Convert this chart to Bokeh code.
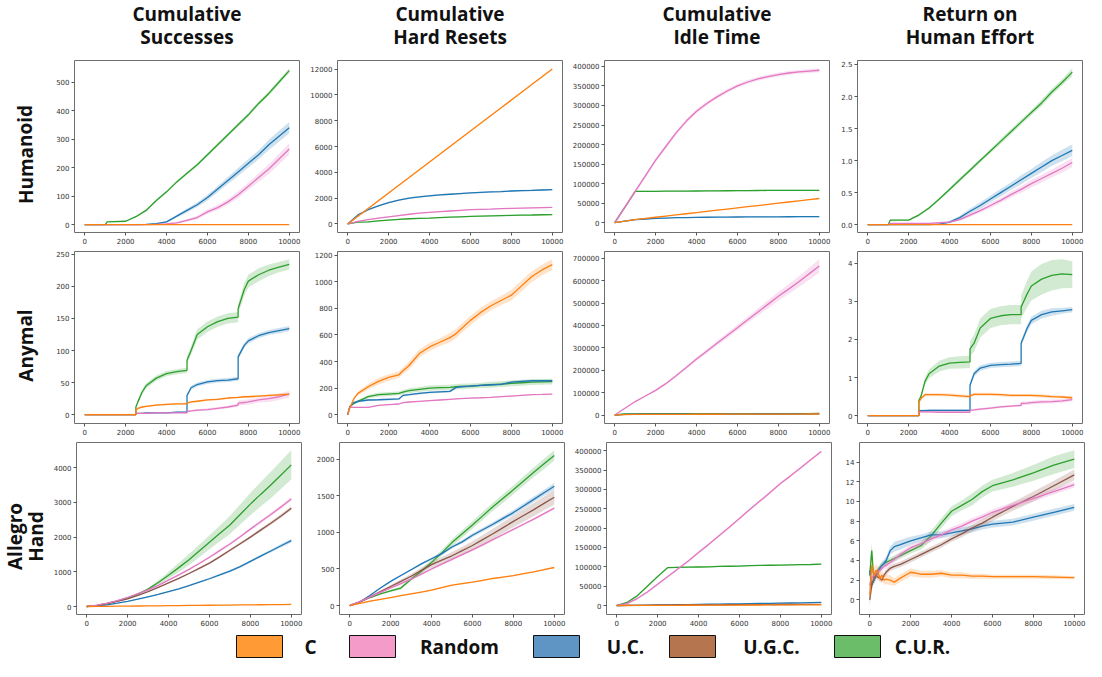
from bokeh.plotting import figure
from bokeh.layouts import row, column
from bokeh.models import Range1d, FixedTicker, PrintfTickFormatter
from bokeh.embed import file_html
from bokeh.resources import INLINE
from bokeh.core.properties import value

# ---------------- data ----------------
METHODS = ["C", "Random", "U.C.", "U.G.C.", "C.U.R."]
LINE_COLORS = ["#ff7f0e", "#e377c2", "#1f77b4", "#8c564b", "#2ca02c"]
SWATCH_COLORS = ["#ff9a35", "#f59bc9", "#5f95c4", "#b5764f", "#6cbd6a"]
COL_TITLES = [["Cumulative", "Successes"], ["Cumulative", "Hard Resets"],
              ["Cumulative", "Idle Time"], ["Return on", "Human Effort"]]
ROW_TITLES = [["Humanoid"], ["Anymal"], ["Allegro", "Hand"]]

X_TICKS = [0, 2000, 4000, 6000, 8000, 10000]
G = [0, 500, 1000, 1500, 2000, 2500, 3000, 3500, 4000, 4500, 5000, 5500, 6000,
     6500, 7000, 7500, 8000, 8500, 9000, 9500, 10000]

# Humanoid - cumulative successes / return on human effort
HX = [0, 1000, 1100, 2000, 2500, 3000, 3500, 4000, 4500, 5000, 5500, 6000, 6500,
      7000, 7500, 8000, 8500, 9000, 9500, 10000]
H_SU_C = [0] * 20
H_SU_RND = [0, 0, 0, 0, 0, 0, 1, 3, 6, 15, 25, 45, 60, 80, 105, 135, 165, 195, 230, 265]
H_SU_RND_SD = [0, 0, 0, 0, 0, 0, 1, 2, 3, 5, 6, 8, 9, 10, 12, 13, 15, 17, 18, 20]
H_SU_UC = [0, 0, 0, 0, 0, 1, 4, 10, 30, 50, 70, 95, 125, 155, 185, 215, 245, 280, 310, 340]
H_SU_UC_SD = [0, 0, 0, 0, 0, 1, 2, 3, 5, 7, 8, 10, 11, 12, 14, 15, 16, 18, 19, 20]
H_SU_CUR = [0, 0, 10, 12, 28, 50, 85, 115, 150, 180, 210, 245, 280, 315, 350, 385, 425, 460, 500, 540]
H_SU_CUR_SD = [0, 0, 1, 2, 3, 4, 4, 5, 5, 5, 5, 6, 6, 6, 7, 7, 7, 8, 8, 8]
H_SU_YT = [0, 100, 200, 300, 400, 500]

H_RO_C = [0] * 20
H_RO_RND = [0, 0, 0.02, 0.02, 0.02, 0.02, 0.03, 0.04, 0.08, 0.15, 0.22, 0.30, 0.38,
            0.47, 0.55, 0.64, 0.72, 0.80, 0.88, 0.97]
H_RO_RND_SD = [0, 0, 0, 0, 0, 0, 0.01, 0.01, 0.02, 0.03, 0.03, 0.04, 0.04, 0.05,
               0.05, 0.06, 0.06, 0.06, 0.07, 0.07]
H_RO_UC = [0, 0, 0, 0, 0, 0, 0.01, 0.04, 0.11, 0.21, 0.30, 0.40, 0.50, 0.60, 0.70,
           0.80, 0.90, 1.00, 1.08, 1.16]
H_RO_UC_SD = [0, 0, 0, 0, 0, 0, 0.01, 0.02, 0.03, 0.04, 0.05, 0.05, 0.06, 0.06,
              0.07, 0.07, 0.08, 0.08, 0.09, 0.09]
H_RO_CUR = [0, 0, 0.07, 0.07, 0.15, 0.26, 0.40, 0.55, 0.70, 0.85, 1.00, 1.15, 1.30,
            1.45, 1.60, 1.75, 1.90, 2.07, 2.22, 2.38]
H_RO_CUR_SD = [0, 0, 0.01, 0.01, 0.02, 0.02, 0.02, 0.03, 0.03, 0.03, 0.03, 0.03,
               0.04, 0.04, 0.04, 0.04, 0.05, 0.05, 0.05, 0.06]
H_RO_YT = [0, 0.5, 1.0, 1.5, 2.0, 2.5]

# Humanoid - hard resets (x = G)
H_HR_C = [0, 600, 1200, 1800, 2400, 3000, 3600, 4200, 4800, 5400, 6000, 6600, 7200,
          7800, 8400, 9000, 9600, 10200, 10800, 11400, 12000]
H_HR_RND = [0, 200, 330, 450, 550, 650, 750, 830, 900, 950, 1000, 1050, 1100, 1130,
            1150, 1180, 1200, 1220, 1240, 1260, 1280]
H_HR_UC = [0, 700, 1100, 1400, 1650, 1850, 2000, 2100, 2180, 2250, 2300, 2350, 2400,
           2440, 2480, 2510, 2550, 2580, 2600, 2630, 2650]
H_HR_CUR = [0, 140, 150, 230, 300, 350, 400, 430, 450, 490, 520, 550, 580, 600, 620,
            640, 660, 680, 690, 710, 720]
H_HR_YT = [0, 2000, 4000, 6000, 8000, 10000, 12000]

# Humanoid - idle time (x = G)
H_ID_C = [0, 4000, 8000, 11000, 14000, 17000, 20000, 23000, 26000, 29000, 32000, 35000,
          38000, 41000, 44000, 47000, 50000, 53000, 56000, 59000, 62000]
H_ID_RND = [0, 40000, 80000, 120000, 160000, 195000, 230000, 260000, 285000, 305000,
            322000, 337000, 350000, 360000, 368000, 374000, 379000, 383000, 386000,
            388000, 390000]
H_ID_UC = [0, 4000, 8000, 9500, 11000, 12000, 12800, 13300, 13700, 14000, 14300, 14500,
           14700, 14900, 15000, 15100, 15200, 15300, 15400, 15500, 15500]
H_ID_CUR = [0, 40000, 80000, 80200, 80400, 80600, 80800, 81000, 81200, 81400, 81600,
            81800, 82000, 82200, 82400, 82600, 82700, 82800, 82900, 83000, 83000]
ID_YT = [0, 50000, 100000, 150000, 200000, 250000, 300000, 350000, 400000]

# Anymal - successes / return on human effort
AX = [0, 2500, 2500, 2600, 2800, 3000, 3500, 4000, 4500, 5000, 5000, 5200, 5500, 6000,
      6500, 7000, 7500, 7500, 7800, 8000, 8500, 9000, 9500, 10000]
A_SU_C = [0, 0, 7, 10, 12, 13, 15, 16, 17, 17, 18, 20, 21, 23, 24, 26, 27, 27, 28, 28,
          29, 30, 31, 32]
A_SU_RND = [0, 0, 2, 2, 2, 2, 3, 3, 3, 3, 5, 6, 7, 8, 10, 12, 15, 18, 19, 20, 23, 25, 28, 32]
A_SU_RND_SD = [0, 0, 1, 1, 1, 1, 1, 1, 1, 1, 1, 1, 2, 2, 2, 2, 3, 4, 4, 4, 4, 5, 5, 5]
A_SU_UC = [0, 0, 2, 2, 2, 3, 3, 3, 4, 4, 30, 42, 47, 51, 53, 54, 56, 90, 108, 115, 123,
           128, 131, 134]
A_SU_UC_SD = [0, 0, 0, 0, 0, 0, 0, 0, 1, 1, 3, 3, 3, 3, 3, 3, 3, 4, 4, 4, 4, 4, 4, 4]
A_SU_CUR = [0, 0, 12, 20, 35, 45, 57, 64, 67, 69, 85, 100, 125, 137, 145, 150, 152, 165,
            195, 208, 218, 225, 230, 234]
A_SU_CUR_SD = [0, 0, 3, 3, 4, 4, 4, 4, 4, 4, 6, 7, 8, 8, 8, 8, 8, 8, 10, 10, 10, 9, 8, 8]
A_SU_YT = [0, 50, 100, 150, 200, 250]

A_RO_C = [0, 0, 0.35, 0.45, 0.55, 0.55, 0.55, 0.54, 0.52, 0.50, 0.52, 0.56, 0.56, 0.56,
          0.55, 0.53, 0.53, 0.53, 0.53, 0.53, 0.52, 0.50, 0.49, 0.47]
A_RO_C_SD = [0, 0, 0.04, 0.04, 0.04, 0.04, 0.04, 0.04, 0.04, 0.04, 0.04, 0.04, 0.04,
             0.04, 0.04, 0.04, 0.04, 0.04, 0.04, 0.04, 0.04, 0.04, 0.03, 0.03]
A_RO_RND = [0, 0, 0.10, 0.10, 0.10, 0.10, 0.09, 0.09, 0.09, 0.09, 0.14, 0.15, 0.17, 0.20,
            0.23, 0.25, 0.27, 0.32, 0.33, 0.34, 0.36, 0.37, 0.39, 0.42]
A_RO_RND_SD = [0, 0, 0.02, 0.02, 0.02, 0.02, 0.02, 0.02, 0.02, 0.02, 0.03, 0.03, 0.03,
               0.03, 0.03, 0.03, 0.03, 0.05, 0.05, 0.05, 0.05, 0.05, 0.05, 0.05]
A_RO_UC = [0, 0, 0.12, 0.13, 0.13, 0.14, 0.14, 0.14, 0.14, 0.14, 0.80, 1.10, 1.25, 1.32,
           1.34, 1.35, 1.37, 1.90, 2.30, 2.50, 2.65, 2.72, 2.75, 2.78]
A_RO_UC_SD = [0, 0, 0.02, 0.03, 0.03, 0.03, 0.03, 0.03, 0.03, 0.03, 0.06, 0.07, 0.07,
              0.07, 0.07, 0.07, 0.07, 0.08, 0.09, 0.10, 0.10, 0.10, 0.08, 0.07]
A_RO_CUR = [0, 0, 0.40, 0.50, 0.90, 1.10, 1.30, 1.38, 1.40, 1.41, 1.75, 1.90, 2.30, 2.55,
            2.62, 2.65, 2.65, 2.85, 3.20, 3.40, 3.58, 3.68, 3.72, 3.70]
A_RO_CUR_SD = [0, 0, 0.05, 0.06, 0.10, 0.12, 0.14, 0.15, 0.16, 0.16, 0.20, 0.22, 0.25,
               0.25, 0.25, 0.25, 0.25, 0.30, 0.35, 0.38, 0.40, 0.40, 0.38, 0.35]
A_RO_YT = [0, 1, 2, 3, 4]

# Anymal - hard resets
AHX = [0, 100, 300, 500, 1000, 1500, 2000, 2500, 2700, 3000, 3500, 4000, 4500, 5000,
       5300, 5500, 6000, 6500, 7000, 7500, 8000, 8500, 9000, 9500, 10000]
A_HR_C = [0, 50, 120, 160, 210, 250, 280, 300, 330, 370, 460, 510, 545, 580, 610, 640,
          710, 770, 820, 860, 900, 970, 1040, 1090, 1130]
A_HR_C_SD = [0, 5, 10, 15, 20, 25, 25, 25, 25, 30, 30, 30, 30, 35, 35, 35, 35, 35, 35,
             35, 40, 40, 40, 40, 40]
A_HR_RND = [0, 55, 55, 55, 55, 70, 75, 80, 90, 95, 100, 105, 110, 115, 118, 120, 125,
            127, 130, 135, 140, 145, 150, 152, 155]
A_HR_UC = [0, 60, 90, 100, 110, 112, 115, 118, 145, 150, 160, 167, 171, 175, 205, 210,
           215, 220, 225, 228, 245, 250, 255, 255, 255]
A_HR_CUR = [0, 60, 85, 100, 135, 150, 155, 160, 170, 180, 190, 200, 203, 205, 210, 212,
            215, 220, 225, 230, 235, 240, 245, 247, 248]
A_HR_CUR_SD = [0, 5, 8, 10, 12, 15, 15, 15, 15, 18, 18, 20, 20, 20, 20, 20, 20, 20, 22,
               22, 22, 22, 22, 22, 22]
A_HR_YT = [0, 200, 400, 600, 800, 1000, 1200]

# Anymal - idle time (x = G)
A_ID_C = [0, 2000, 2500, 2700, 2900, 3000, 3100, 3200, 3300, 3400, 3500, 3600, 3700,
          3800, 3900, 4000, 4100, 4200, 4300, 4400, 4500]
A_ID_RND = [0, 30000, 60000, 85000, 110000, 140000, 175000, 212000, 250000, 285000,
            320000, 355000, 390000, 425000, 460000, 495000, 530000, 562000, 595000,
            630000, 665000]
A_ID_RND_SD = [0, 1000, 2000, 3000, 4000, 5000, 6000, 7000, 8000, 9000, 10000, 11000,
               13000, 14000, 16000, 18000, 20000, 22000, 24000, 27000, 30000]
A_ID_UC = [0, 3000, 3500, 3700, 3800, 3900, 4000, 4000, 4100, 4100, 4200, 4200, 4300,
           4300, 4400, 4400, 4500, 4500, 4600, 4600, 4700]
A_ID_CUR = [0, 5000, 5500, 5700, 5800, 5900, 6000, 6000, 6100, 6100, 6200, 6200, 6300,
            6300, 6400, 6400, 6500, 6500, 6600, 6600, 6700]
A_ID_YT = [0, 100000, 200000, 300000, 400000, 500000, 600000, 700000]

# Allegro Hand - successes (x = G)
L_SU_C = [0, 3, 6, 9, 12, 15, 18, 21, 24, 27, 30, 33, 36, 39, 42, 45, 48, 51, 54, 57, 60]
L_SU_RND = [0, 40, 100, 170, 260, 370, 480, 610, 760, 910, 1070, 1240, 1420, 1610, 1800,
            2010, 2230, 2440, 2650, 2870, 3100]
L_SU_UC = [0, 20, 50, 95, 150, 210, 280, 350, 430, 510, 600, 700, 800, 910, 1020, 1150,
           1300, 1450, 1600, 1750, 1900]
L_SU_UC_SD = [0, 2, 4, 6, 8, 10, 12, 14, 16, 18, 20, 22, 25, 28, 30, 33, 36, 40, 45, 50, 55]
L_SU_UGC = [0, 30, 80, 145, 220, 320, 430, 550, 680, 810, 950, 1100, 1250, 1430, 1620,
            1810, 2000, 2200, 2400, 2610, 2830]
L_SU_UGC_SD = [0, 3, 5, 8, 10, 12, 14, 16, 18, 20, 22, 25, 28, 30, 33, 36, 40, 45, 50, 55, 60]
L_SU_CUR = [0, 35, 90, 160, 250, 360, 500, 690, 900, 1120, 1350, 1600, 1850, 2100, 2350,
            2650, 2950, 3230, 3500, 3790, 4080]
L_SU_CUR_SD = [0, 3, 6, 10, 15, 20, 30, 60, 100, 130, 160, 180, 200, 230, 260, 290, 320,
               350, 380, 400, 420]
L_SU_YT = [0, 1000, 2000, 3000, 4000]

# Allegro Hand - hard resets (x = G)
L_HR_C = [0, 30, 60, 85, 110, 135, 160, 185, 210, 245, 280, 300, 320, 345, 370, 390, 410,
          435, 460, 490, 520]
L_HR_RND = [0, 55, 120, 180, 240, 300, 360, 430, 500, 565, 630, 695, 760, 830, 900, 970,
            1040, 1110, 1180, 1255, 1330]
L_HR_UC = [0, 50, 140, 240, 330, 410, 490, 570, 640, 710, 800, 870, 960, 1035, 1110,
           1190, 1270, 1360, 1450, 1540, 1630]
L_HR_UC_SD = [0, 3, 5, 8, 10, 12, 14, 16, 18, 20, 22, 24, 26, 28, 30, 32, 35, 38, 40, 42, 45]
L_HR_UGC = [0, 50, 120, 190, 260, 330, 400, 480, 560, 620, 680, 750, 820, 900, 980, 1065,
            1150, 1230, 1310, 1395, 1480]
L_HR_UGC_SD = [0, 5, 10, 15, 20, 25, 30, 35, 40, 45, 50, 55, 60, 65, 70, 75, 80, 85, 90,
               95, 100]
L_HR_CUR = [0, 50, 110, 160, 200, 240, 360, 470, 590, 720, 860, 980, 1100, 1225, 1350,
            1465, 1580, 1700, 1820, 1935, 2050]
L_HR_CUR_SD = [0, 5, 8, 10, 15, 20, 25, 30, 35, 40, 45, 50, 50, 55, 55, 60, 60, 65, 65,
               70, 70]
L_HR_YT = [0, 500, 1000, 1500, 2000]

# Allegro Hand - idle time (x = G)
L_ID_C = [0, 100, 200, 300, 400, 500, 600, 700, 800, 900, 1000, 1100, 1200, 1300, 1400,
          1500, 1600, 1700, 1800, 1900, 2000]
L_ID_RND = [0, 5000, 18000, 35000, 55000, 75000, 95000, 115000, 137000, 158000, 180000,
            202000, 225000, 248000, 270000, 292000, 315000, 335000, 356000, 377000, 398000]
L_ID_UC = [0, 300, 600, 900, 1300, 1700, 2100, 2500, 2900, 3300, 3700, 4100, 4500, 4900,
           5300, 5700, 6100, 6500, 7000, 7500, 8000]
L_ID_UGC = [0, 200, 400, 600, 800, 1000, 1200, 1400, 1500, 1700, 1800, 2000, 2100, 2300,
            2400, 2500, 2600, 2700, 2800, 2900, 3000]
L_ID_CUR = [0, 8000, 25000, 50000, 75000, 98000, 98500, 99000, 99500, 100000, 101000,
            101500, 102000, 103000, 103500, 104000, 104500, 105000, 105500, 106000, 107000]

# Allegro Hand - return on human effort
LX = [0, 100, 200, 300, 400, 500, 600, 700, 800, 1000, 1200, 1500, 2000, 2500, 3000,
      3500, 4000, 4500, 5000, 5500, 6000, 7000, 8000, 9000, 10000]
L_RO_C = [0.5, 3.5, 2.5, 3.0, 2.8, 2.2, 2.5, 2.0, 2.1, 2.0, 1.8, 2.2, 2.8, 2.6, 2.6, 2.7,
          2.5, 2.5, 2.4, 2.4, 2.35, 2.35, 2.35, 2.3, 2.25]
L_RO_C_SD = [1.2, 0.8, 0.7, 0.6, 0.6, 0.5, 0.5, 0.5, 0.5, 0.5, 0.4, 0.4, 0.4, 0.35, 0.35,
             0.3, 0.3, 0.3, 0.25, 0.25, 0.2, 0.2, 0.2, 0.2, 0.15]
L_RO_RND = [1.5, 2.2, 2.5, 2.7, 2.9, 3.0, 3.2, 3.4, 3.5, 3.8, 4.1, 4.6, 5.3, 5.7, 6.2, 6.6,
            7.1, 7.5, 8.0, 8.4, 8.9, 9.6, 10.3, 11.0, 11.7]
L_RO_RND_SD = [0.5, 0.4, 0.3, 0.3, 0.3, 0.3, 0.3, 0.3, 0.3, 0.3, 0.3, 0.3, 0.3, 0.3, 0.3,
               0.3, 0.3, 0.3, 0.3, 0.3, 0.3, 0.3, 0.3, 0.3, 0.3]
L_RO_UC = [3.0, 1.5, 2.0, 2.4, 2.8, 3.2, 3.5, 3.7, 4.0, 5.0, 5.4, 5.6, 6.0, 6.3, 6.6, 6.6,
           6.8, 7.0, 7.2, 7.5, 7.7, 7.9, 8.4, 8.9, 9.4]
L_RO_UC_SD = [0.4, 0.4, 0.4, 0.4, 0.4, 0.4, 0.4, 0.4, 0.4, 0.4, 0.5, 0.5, 0.4, 0.35, 0.35,
              0.35, 0.35, 0.35, 0.35, 0.35, 0.35, 0.35, 0.35, 0.35, 0.35]
L_RO_UGC = [0.0, 1.5, 2.2, 2.5, 2.3, 2.2, 2.0, 2.5, 2.8, 3.2, 3.4, 3.6, 4.1, 4.6, 5.1, 5.6,
            6.2, 6.7, 7.3, 7.8, 8.4, 9.5, 10.5, 11.6, 12.7]
L_RO_UGC_SD = [0.6, 0.5, 0.4, 0.3, 0.3, 0.3, 0.3, 0.3, 0.3, 0.3, 0.3, 0.3, 0.3, 0.3, 0.3,
               0.3, 0.3, 0.35, 0.35, 0.4, 0.4, 0.45, 0.5, 0.5, 0.55]
L_RO_CUR = [2.5, 5.0, 2.0, 2.5, 3.0, 3.3, 3.5, 3.7, 3.8, 4.0, 4.2, 4.5, 5.0, 5.5, 6.5, 7.8,
            9.0, 9.6, 10.2, 11.0, 11.6, 12.2, 12.9, 13.7, 14.3]
L_RO_CUR_SD = [1.5, 0.8, 0.5, 0.4, 0.3, 0.3, 0.3, 0.3, 0.3, 0.3, 0.3, 0.3, 0.3, 0.4, 0.5,
               0.5, 0.5, 0.5, 0.6, 0.6, 0.6, 0.7, 0.8, 0.9, 0.9]
L_RO_YT = [0, 2, 4, 6, 8, 10, 12, 14, 16]

# ---------------- panel specs (built from the lists above) ----------------
PANELS = [
    [  # Humanoid
        (HX, {"C": (H_SU_C, 0), "Random": (H_SU_RND, H_SU_RND_SD), "U.C.": (H_SU_UC, H_SU_UC_SD),
              "C.U.R.": (H_SU_CUR, H_SU_CUR_SD)}, H_SU_YT, "%d"),
        (G, {"C": (H_HR_C, 60), "Random": (H_HR_RND, 40), "U.C.": (H_HR_UC, 60),
             "C.U.R.": (H_HR_CUR, 40)}, H_HR_YT, "%d"),
        (G, {"C": (H_ID_C, 1000), "Random": (H_ID_RND, 5000), "U.C.": (H_ID_UC, 1500),
             "C.U.R.": (H_ID_CUR, 1500)}, ID_YT, "%d"),
        (HX, {"C": (H_RO_C, 0), "Random": (H_RO_RND, H_RO_RND_SD), "U.C.": (H_RO_UC, H_RO_UC_SD),
              "C.U.R.": (H_RO_CUR, H_RO_CUR_SD)}, H_RO_YT, "%.1f"),
    ],
    [  # Anymal
        (AX, {"C": (A_SU_C, 1.5), "Random": (A_SU_RND, A_SU_RND_SD), "U.C.": (A_SU_UC, A_SU_UC_SD),
              "C.U.R.": (A_SU_CUR, A_SU_CUR_SD)}, A_SU_YT, "%d"),
        (AHX, {"C": (A_HR_C, A_HR_C_SD), "Random": (A_HR_RND, 4), "U.C.": (A_HR_UC, 8),
               "C.U.R.": (A_HR_CUR, A_HR_CUR_SD)}, A_HR_YT, "%d"),
        (G, {"C": (A_ID_C, 1500), "Random": (A_ID_RND, A_ID_RND_SD), "U.C.": (A_ID_UC, 1500),
             "C.U.R.": (A_ID_CUR, 3000)}, A_ID_YT, "%d"),
        (AX, {"C": (A_RO_C, A_RO_C_SD), "Random": (A_RO_RND, A_RO_RND_SD),
              "U.C.": (A_RO_UC, A_RO_UC_SD), "C.U.R.": (A_RO_CUR, A_RO_CUR_SD)}, A_RO_YT, "%d"),
    ],
    [  # Allegro Hand
        (G, {"C": (L_SU_C, 5), "Random": (L_SU_RND, L_SU_UGC_SD), "U.C.": (L_SU_UC, L_SU_UC_SD),
             "U.G.C.": (L_SU_UGC, L_SU_UGC_SD), "C.U.R.": (L_SU_CUR, L_SU_CUR_SD)}, L_SU_YT, "%d"),
        (G, {"C": (L_HR_C, 8), "Random": (L_HR_RND, 15), "U.C.": (L_HR_UC, L_HR_UC_SD),
             "U.G.C.": (L_HR_UGC, L_HR_UGC_SD), "C.U.R.": (L_HR_CUR, L_HR_CUR_SD)}, L_HR_YT, "%d"),
        (G, {"C": (L_ID_C, 300), "Random": (L_ID_RND, 3000), "U.C.": (L_ID_UC, 800),
             "U.G.C.": (L_ID_UGC, 500), "C.U.R.": (L_ID_CUR, 1500)}, ID_YT, "%d"),
        (LX, {"C": (L_RO_C, L_RO_C_SD), "Random": (L_RO_RND, L_RO_RND_SD),
              "U.C.": (L_RO_UC, L_RO_UC_SD), "U.G.C.": (L_RO_UGC, L_RO_UGC_SD),
              "C.U.R.": (L_RO_CUR, L_RO_CUR_SD)}, L_RO_YT, "%d"),
    ],
]
DRAW_ORDER = ["C.U.R.", "U.C.", "U.G.C.", "Random", "C"]

# ---------------- layout constants ----------------
TOTAL_W = 1086
ROWLAB_W = 50
LEFTS = [24, 34, 38, 24]
RIGHT = 4
FW = 225
TOP, FH, BOT = 4, 172, 15
ROW_H = TOP + FH + BOT
HEAD_H = 56
LEG_H = 32
FONT = "Open Sans"


def bare(w, h):
    f = figure(frame_width=w, frame_height=h, min_border=0, toolbar_location=None,
               output_backend="svg", x_range=Range1d(0, w), y_range=Range1d(h, 0),
               x_axis_location=None, y_axis_location=None)
    f.outline_line_color = None
    f.grid.visible = False
    f.background_fill_color = None
    f.border_fill_color = None
    return f


def make_panel(ci, spec):
    xs, series, yt, fmt = spec
    p = figure(frame_width=FW, frame_height=FH, min_border_left=LEFTS[ci],
               min_border_right=RIGHT, min_border_top=TOP, min_border_bottom=BOT,
               toolbar_location=None, output_backend="svg")
    p.x_range.range_padding = 0.1
    p.y_range.range_padding = 0.1
    p.grid.visible = False
    p.outline_line_color = "#6f6f6f"
    p.outline_line_width = 1
    for m in DRAW_ORDER:
        if m not in series:
            continue
        y, sd = series[m]
        if isinstance(sd, (int, float)):
            sd = [sd] * len(y)
        col = LINE_COLORS[METHODS.index(m)]
        lo = [a - b for a, b in zip(y, sd)]
        hi = [a + b for a, b in zip(y, sd)]
        p.varea(x=xs, y1=lo, y2=hi, fill_color=col, fill_alpha=0.22)
        p.line(x=xs, y=y, line_color=col, line_width=1.3)
    p.xaxis.ticker = FixedTicker(ticks=X_TICKS)
    p.yaxis.ticker = FixedTicker(ticks=yt)
    p.xaxis.formatter = PrintfTickFormatter(format="%d")
    p.yaxis.formatter = PrintfTickFormatter(format=fmt)
    for ax in (p.xaxis[0], p.yaxis[0]):
        ax.axis_line_color = None
        ax.major_tick_line_color = "#555555"
        ax.major_tick_out = 3
        ax.major_tick_in = 0
        ax.minor_tick_line_color = None
        ax.major_label_text_font = "DejaVu Sans"
        ax.major_label_text_font_size = "7px"
        ax.major_label_text_color = "#333333"
        ax.major_label_standoff = 2
    return p


# header
head = bare(TOTAL_W, HEAD_H)
x0 = ROWLAB_W
for ci, lines in enumerate(COL_TITLES):
    cx = x0 + LEFTS[ci] + FW / 2
    for li, t in enumerate(lines):
        head.text(x=[cx], y=[13 + 23 * li], text=[t], text_font=value(FONT),
                  text_font_style="bold", text_font_size="19px", text_align="center",
                  text_baseline="middle", text_color="#111111")
    x0 += LEFTS[ci] + FW + RIGHT

rows = [head]
for ri, specs in enumerate(PANELS):
    lab = bare(ROWLAB_W, ROW_H)
    lines = ROW_TITLES[ri]
    n = len(lines)
    for li, t in enumerate(lines):
        lx = 25 + (li - (n - 1) / 2) * 21
        lab.text(x=[lx], y=[TOP + FH / 2 + 4], text=[t], angle=1.5708, text_font=value(FONT),
                 text_font_style="bold", text_font_size="19px", text_align="center",
                 text_baseline="middle", text_color="#111111")
    figs = [lab] + [make_panel(ci, s) for ci, s in enumerate(specs)]
    rows.append(row(*figs))

# legend
leg = bare(TOTAL_W, LEG_H)
SW_CX = [259, 372, 556, 692, 857]
LB_CX = [310, 459, 625, 771, 922]
for i, m in enumerate(METHODS):
    leg.rect(x=[SW_CX[i]], y=[17], width=46, height=22, fill_color=SWATCH_COLORS[i],
             line_color="#111111", line_width=1)
    leg.text(x=[LB_CX[i]], y=[17], text=[m], text_font=value(FONT), text_font_style="bold",
             text_font_size="19px", text_align="center", text_baseline="middle",
             text_color="#111111")
rows.append(leg)

layout = column(*rows)
open("out.html", "w").write(file_html(layout, INLINE))
